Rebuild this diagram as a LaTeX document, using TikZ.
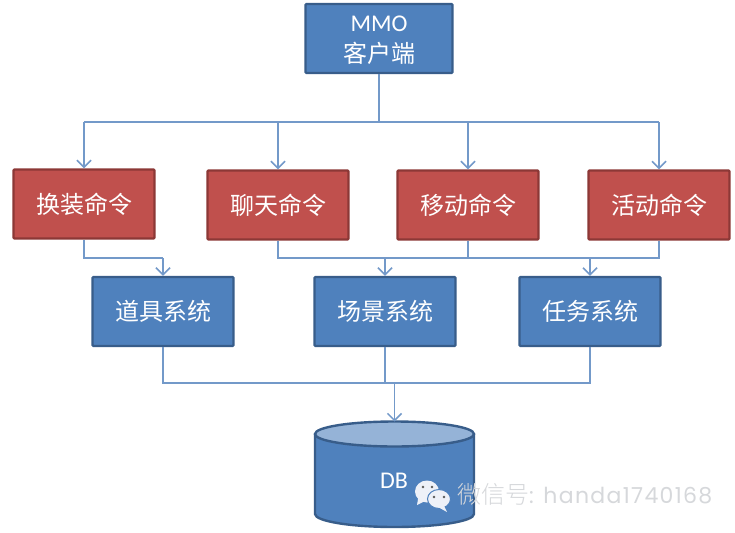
\documentclass[tikz,border=0pt]{standalone}
\usepackage{fontspec}
\setmainfont{Carlito}
\newfontfamily\cjk{Noto Sans CJK SC}
\newfontfamily\thincjk{Noto Sans CJK SC Light}
\newfontfamily\widelatin[LetterSpace=6]{Poppins}
\usetikzlibrary{arrows.meta}
\definecolor{bluefill}{HTML}{4F81BD}
\definecolor{blueline}{HTML}{385D8A}
\definecolor{redfill}{HTML}{C0504D}
\definecolor{redline}{HTML}{8C3836}
\definecolor{conn}{HTML}{7399C9}
\definecolor{topfill}{HTML}{95B3D7}
\definecolor{mark}{HTML}{D6D8DB}
\definecolor{bubble}{HTML}{EEF1F8}
\tikzset{
  bluebox/.style={draw=blueline,fill=bluefill,line width=2.4pt,rounded corners=1pt,minimum width=141pt,minimum height=69pt,inner sep=0pt,text=white,font=\fontsize{24}{29}\selectfont,align=center},
  redbox/.style={draw=redline,fill=redfill,line width=2.4pt,rounded corners=1pt,minimum width=141pt,minimum height=69pt,inner sep=0pt,text=white,font=\fontsize{24}{29}\selectfont\cjk},
  sysbox/.style={bluebox,font=\fontsize{24}{29}\selectfont\cjk},
  link/.style={draw=conn,line width=1.4pt},
  arrowlink/.style={link,-{Straight Barb[length=7pt,width=14pt,line width=1.5pt]}},
  dbpart/.style={draw=blueline,line width=2.4pt},
}
\begin{document}
\begin{tikzpicture}[x=1pt,y=-1pt]
\useasboundingbox (0,0) rectangle (735,532);
\fill[white] (0,0) rectangle (735,532);
\node[bluebox,minimum width=147pt] (client) at (379,38.5) {\rule{0pt}{20pt}MMO\\[2pt]{\cjk 客户端}};
\node[redbox] (c1) at (84,204) {换装命令};
\node[redbox] (c2) at (278,205) {聊天命令};
\node[redbox] (c3) at (468,205) {移动命令};
\node[redbox] (c4) at (659,205) {活动命令};
\node[sysbox] (s1) at (163,311.5) {道具系统};
\node[sysbox] (s2) at (385,311.5) {场景系统};
\node[sysbox] (s3) at (590,311.5) {任务系统};
% database cylinder
\draw[dbpart,fill=bluefill] (315,434) -- (315,514) arc[start angle=180,end angle=0,x radius=79.5,y radius=13] -- (474,434);
\draw[dbpart,fill=topfill] (394.5,434) ellipse [x radius=79.5,y radius=12.5];
\coordinate (dbtop) at (394.5,421.5);
\node[text=white,font=\fontsize{24}{29}\selectfont,inner sep=0pt] (dbl) at (394,481) {DB};
% top bus
\coordinate (bustop) at (379,122);
\coordinate (b1) at (84,122);
\coordinate (b4) at (659,122);
\draw[link] (client.south) -- (bustop);
\draw[link] (b1) -- (b4);
\draw[arrowlink] (c1.north |- bustop) -- (c1.north);
\draw[arrowlink] (c2.north |- bustop) -- (c2.north);
\draw[arrowlink] (c3.north |- bustop) -- (c3.north);
\draw[arrowlink] (c4.north |- bustop) -- (c4.north);
% middle
\coordinate (m1) at (163,258);
\coordinate (m2) at (385,258);
\coordinate (m3) at (590,258);
\draw[link] (c1.south) |- (m1);
\draw[arrowlink] (m1) -- (s1.north);
\draw[link] (c2.south) |- (m2);
\draw[link] (c4.south) |- (m3);
\draw[link] (m2) -- (m3);
\draw[link] (c3.south) -- (c3.south |- m2);
\draw[arrowlink] (m2) -- (s2.north);
\draw[arrowlink] (m3) -- (s3.north);
% bottom
\coordinate (d1) at (394.5,383);
\draw[link] (s1.south) |- (d1);
\draw[link] (s3.south) |- (d1);
\draw[link] (s2.south) -- (s2.south |- d1);
\draw[arrowlink] (d1) -- (dbtop);
% watermark icon
\fill[bubble] (427,491.5) ellipse [x radius=12,y radius=11];
\fill[bubble] (418,499) -- (417,505) -- (425,501) -- cycle;
\draw[bluefill,line width=1pt,fill=bubble] (439,499) ellipse [x radius=11.5,y radius=9.5];
\fill[bubble] (444,506) -- (447,512) -- (438,507) -- cycle;
\fill[black!65] (423,487) circle (1.3) (432,487) circle (1.3) (434,497) circle (1.3) (444,497) circle (1.3);
\node[anchor=west,inner sep=0pt,text=mark,font=\fontsize{24}{28}\selectfont] (wm) at (457,494) {{\thincjk 微信号}{\widelatin\fontsize{22}{28}\selectfont: handa1740168}};
\end{tikzpicture}
\end{document}
